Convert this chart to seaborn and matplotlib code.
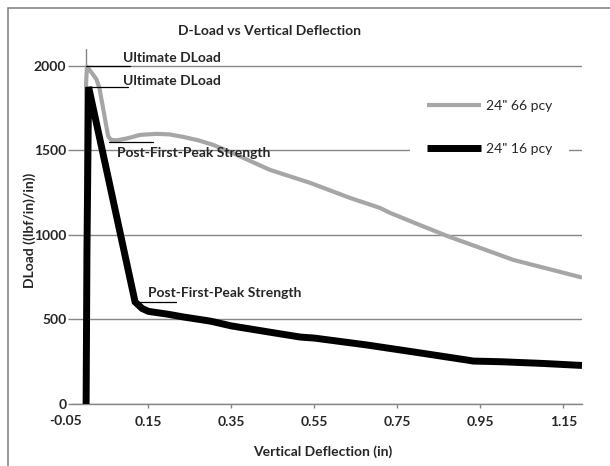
import numpy as np
import pandas as pd
import seaborn as sns
import matplotlib.pyplot as plt
from matplotlib.patches import Rectangle
from matplotlib.transforms import blended_transform_factory

# 24" pipe, 66 pcy fibre dosage
defl_66 = [0.0, 0.0, 0.002, 0.015, 0.025, 0.032, 0.053, 0.060, 0.075, 0.100,
           0.130, 0.170, 0.200, 0.234, 0.270, 0.306, 0.350, 0.443, 0.540,
           0.636, 0.708, 0.733, 0.800, 0.870, 0.950, 1.030, 1.100, 1.195]
load_66 = [0, 1900, 1995, 1955, 1920, 1870, 1585, 1562, 1560, 1572,
           1592, 1598, 1595, 1580, 1560, 1533, 1488, 1385, 1308,
           1219, 1160, 1130, 1063, 994, 923, 852, 808, 748]

# 24" pipe, 16 pcy fibre dosage
defl_16 = [0.0, 0.002, 0.006, 0.118, 0.135, 0.150, 0.200, 0.234, 0.300, 0.350,
           0.450, 0.516, 0.550, 0.677, 0.800, 0.918, 0.933, 1.000, 1.100, 1.195]
load_16 = [0, 900, 1875, 604, 565, 548, 530, 515, 490, 462,
           422, 396, 390, 349, 304, 260, 254, 250, 240, 228]

series_labels = ['24" 66 pcy', '24" 16 pcy']
series_colors = ['#A6A6A6', '#000000']

x_ticks = [0.15, 0.35, 0.55, 0.75, 0.95, 1.15]
y_ticks = [0, 500, 1000, 1500, 2000]

# key points called out on each curve: (x, load, label)
ult_66 = (0.0, 2000)
ult_16 = (0.0, 1876)
pfp_66 = (0.055, 1552)
pfp_16 = (0.118, 604)

sns.set_theme(style='white')
plt.rcParams['font.family'] = ['Lato', 'DejaVu Sans']
plt.rcParams['font.weight'] = 'bold'

W, H = 610, 466
fig = plt.figure(figsize=(W / 100, H / 100), dpi=100)
fig.patch.set_facecolor('white')
ax = fig.add_axes([72 / W, 62 / H, 510 / W, 355 / H])

grid_c = '#868686'

df66 = pd.DataFrame({'x': defl_66, 'y': load_66})
df16 = pd.DataFrame({'x': defl_16, 'y': load_16})
sns.lineplot(data=df66, x='x', y='y', sort=False, estimator=None, ax=ax,
             color=series_colors[0], linewidth=3.0, label=series_labels[0],
             solid_joinstyle='round', solid_capstyle='butt', zorder=3)
sns.lineplot(data=df16, x='x', y='y', sort=False, estimator=None, ax=ax,
             color=series_colors[1], linewidth=5.0, label=series_labels[1],
             solid_joinstyle='miter', solid_capstyle='butt', zorder=4)

ax.set_xlim(-0.034, 1.195)
ax.set_ylim(0, 2100)
ax.set_xticks(x_ticks)
ax.set_xticklabels([f'{t:.2f}' for t in x_ticks])
ax.set_yticks(y_ticks)
ax.set_yticklabels([str(t) for t in y_ticks])
ax.tick_params(axis='x', length=3, width=1, color=grid_c, direction='out',
               pad=6, labelsize=10, bottom=True)
ax.tick_params(axis='y', length=3, width=1, color=grid_c, direction='out',
               pad=1, labelsize=10, left=True)
for lab in ax.get_xticklabels() + ax.get_yticklabels():
    lab.set_fontweight('bold')

ax.grid(axis='y', color=grid_c, linewidth=1)
ax.grid(axis='x', visible=False)
ax.set_axisbelow(True)
for s in ['top', 'right', 'left']:
    ax.spines[s].set_visible(False)
ax.spines['bottom'].set_color(grid_c)
ax.spines['bottom'].set_linewidth(1)
# vertical axis crossing at zero deflection
ax.axvline(0, color=grid_c, linewidth=1, zorder=1)
ax.set_xlabel('')
ax.set_ylabel('')

# first category label sits left of the plot edge
tr = blended_transform_factory(ax.transData, ax.transAxes)
ax.annotate('-0.05', xy=(-0.05, 0), xycoords=tr, xytext=(0, -8.2),
            textcoords='offset points', ha='center', va='top',
            fontsize=10, fontweight='bold', annotation_clip=False)

# callouts
def callout(x0, x1, y, text, tx, ty):
    ax.plot([x0, x1], [y, y], color='black', linewidth=0.9, zorder=5)
    ax.text(tx, ty, text, fontsize=10, fontweight='bold', va='baseline',
            ha='left', zorder=6)

callout(ult_66[0], 0.106, ult_66[1], 'Ultimate DLoad', 0.089, 2022)
callout(ult_16[0], 0.101, ult_16[1], 'Ultimate DLoad', 0.089, 1888)
callout(pfp_66[0], 0.161, pfp_66[1], 'Post-First-Peak Strength', 0.075, 1461)
callout(pfp_16[0], 0.217, pfp_16[1], 'Post-First-Peak Strength', 0.149, 633)

leg = ax.legend(loc='center left', bbox_to_anchor=((410 - 72) / 510, (404 - 127.5) / 355),
                frameon=True, fancybox=False, framealpha=1, facecolor='white',
                edgecolor='none', fontsize=10, handlelength=3.9, handletextpad=0.35,
                labelspacing=2.2, borderpad=1.2, borderaxespad=0)
for t in leg.get_texts():
    t.set_fontweight('normal')

fig.text(270 / W, 1 - 31 / H, 'D-Load vs Vertical Deflection', ha='center',
         va='center', fontsize=10, fontweight='bold')
fig.text(323 / W, 1 - 452 / H, 'Vertical Deflection (in)', ha='center',
         va='center', fontsize=10, fontweight='bold')
fig.text(30 / W, 1 - 230 / H, 'DLoad ((lbf/in)/in))', ha='center',
         va='center', rotation=90, fontsize=10, fontweight='bold')

# chart-area border
fig.patches.append(Rectangle((8 / W, -0.1), 1.2, 1 - 8 / H + 0.1,
                             transform=fig.transFigure, fill=False,
                             edgecolor=grid_c, linewidth=1.2))

fig.savefig('out.png', dpi=100)
